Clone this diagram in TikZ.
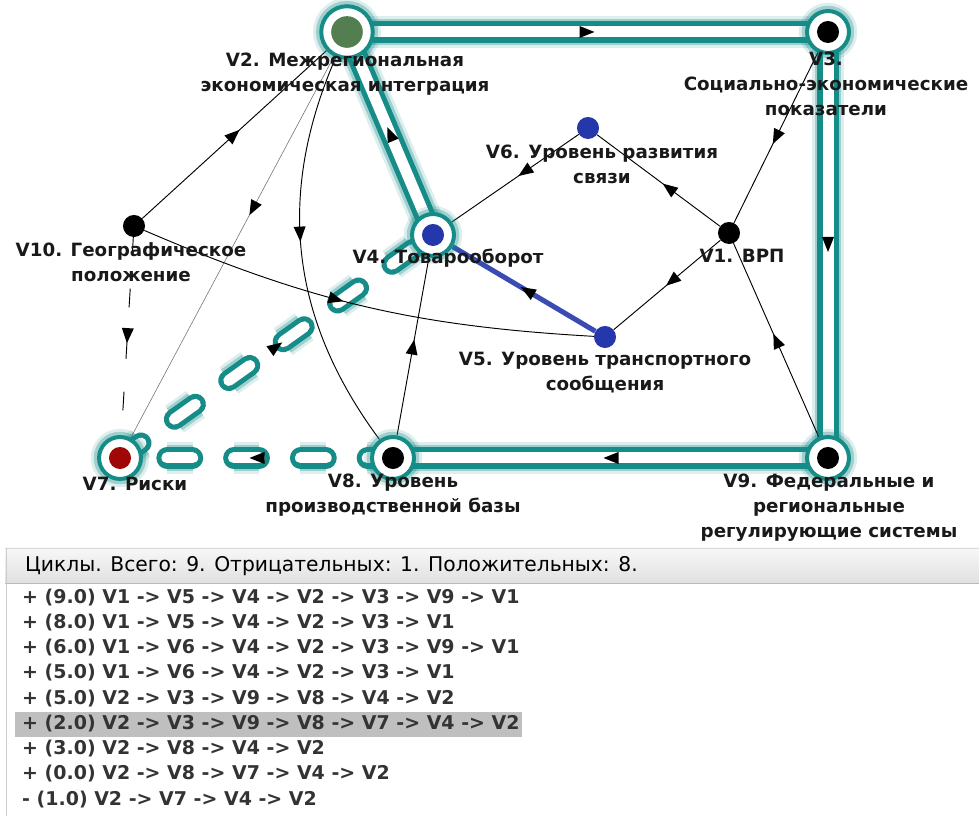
\documentclass[tikz,border=0pt]{standalone}
\usepackage{fontspec}
\setmainfont{DejaVu Sans}
\usepackage{tikz}
\usetikzlibrary{arrows.meta,backgrounds,decorations.markings}

\definecolor{hl}{RGB}{22,140,136}
\definecolor{nodegreen}{RGB}{82,126,80}
\definecolor{nodeblue}{RGB}{36,56,172}
\definecolor{nodered}{RGB}{160,8,8}

\begin{document}
\begin{tikzpicture}[x=0.03cm,y=0.03cm,
	dot/.style={circle,fill=#1,minimum size=18.8pt,inner sep=0pt},
	ring/.style={circle,draw=hl,line width=3.4pt,fill=white,minimum size=35.8pt,inner sep=0pt,
		preaction={draw=hl,opacity=.15,line width=14pt},
		preaction={draw=hl,opacity=.3,line width=9pt},
		path picture={\fill[#1] (path picture bounding box.center) circle (9.4pt);}},
	bigring/.style={ring=#1,minimum size=44pt,
		path picture={\fill[#1] (path picture bounding box.center) circle (13.5pt);}},
	tube/.style={draw=hl,line width=18pt,line cap=round,#1,
		preaction={draw=hl,opacity=.15,line width=28pt,#1},
		preaction={draw=hl,opacity=.3,line width=23pt,#1},
		postaction={draw=white,line width=9.4pt,#1}},
	tube/.default=solid,
	edge/.style={draw=black,line width=0.8pt},
	thinedge/.style={draw=black!55,line width=0.5pt},
	blueedge/.style={draw=nodeblue!90,line width=4.3pt},
	midarrow/.style={postaction={decorate},decoration={markings,
		mark=at position #1 with {\fill[black] (7,0) -- (-8,6) -- (-8,-6) -- cycle;}}},
	midarrow/.default=0.5,
	lbl/.style={font=\bfseries\fontsize{15.6}{21.3}\selectfont,align=center,inner sep=0pt,text=black!90},
	row/.style={anchor=west,font=\bfseries\fontsize{16.2}{18}\selectfont,inner sep=0pt,text=black!80}]
	
	\useasboundingbox (0,0) rectangle (979,816);
	
	% Vertices
	\node[bigring=nodegreen] (v2) at (347,784) {};
	\node[ring=black] (v3) at (828,784) {};
	\node[dot=nodeblue] (v6) at (588,688) {};
	\node[dot=black] (v1) at (729,583) {};
	\node[ring=nodeblue] (v4) at (433,581) {};
	\node[dot=black] (v10) at (134,590) {};
	\node[dot=nodeblue] (v5) at (605,479) {};
	\node[ring=nodered] (v7) at (120,358) {};
	\node[ring=black] (v8) at (393,358) {};
	\node[ring=black] (v9) at (828,358) {};
	
	\begin{scope}[on background layer]
		% Selected cycle
		\draw[tube,midarrow] (v2.center) -- (v3.center);
		\draw[tube,midarrow] (v3.center) -- (v9.center);
		\draw[tube,midarrow] (v9.center) -- (v8.center);
		\draw[tube={dash pattern=on 22pt off 35pt},midarrow] (v8.center) -- (v7.center);
		\draw[tube={dash pattern=on 22pt off 35pt},midarrow] (v7.center) -- (v4.center);
		\draw[tube,midarrow] (v4.center) -- (v2.center);
		
		% Other arcs
		\draw[edge,midarrow] (v10) -- (v2);
		\draw[thinedge,midarrow=.4] (v2) -- (v7);
		\draw[edge,midarrow=.45] (v2) to[bend right=30] (v8);
		\draw[edge,midarrow] (v8) -- (v4);
		\draw[edge,midarrow=.44] (v10) to[bend right=10] (v5);
		\draw[edge,dash pattern=on 16pt off 28pt,midarrow] (v10) -- (v7);
		\draw[edge,midarrow=.43] (v6) -- (v4);
		\draw[edge,midarrow=.42] (v1) -- (v6);
		\draw[edge,midarrow] (v3) -- (v1);
		\draw[edge,midarrow=.46] (v1) -- (v5);
		\draw[edge,midarrow] (v9) -- (v1);
		\draw[blueedge,midarrow=.48] (v5) -- (v4);
	\end{scope}
	
	% Labels
	\node[lbl] (l2) at (345,742) {V2. Межрегиональная\\экономическая интеграция};
	\node[lbl] (l3) at (826,732) {V3.\\Социально-экономические\\показатели};
	\node[lbl] (l6) at (602,652) {V6. Уровень развития\\связи};
	\node[lbl] (l1) at (742,560) {V1. ВРП};
	\node[lbl] (l4) at (448,558) {V4. Товарооборот};
	\node[lbl] (l10) at (131,554) {V10. Географическое\\положение};
	\node[lbl] (l5) at (605,443) {V5. Уровень транспортного\\сообщения};
	\node[lbl] (l7) at (135,332) {V7. Риски};
	\node[lbl] (l8) at (393,321) {V8. Уровень\\производственной базы};
	\node[lbl] (l9) at (829,308) {V9. Федеральные и\\региональные\\регулирующие системы};
	
	% Cycle list
	\shade[top color=gray!6,bottom color=gray!24] (5,268) rectangle (979,233);
	\draw[gray!55] (5,233) -- (979,233);
	\draw[gray!30] (5,268) -- (979,268);
	\draw[gray!40] (6,268) -- (6,0);
	\fill[black!25] (15,104) rectangle (522,79);
	
	\node[anchor=west,inner sep=0pt,font=\fontsize{17.3}{18}\selectfont] (hd) at (25,250) {Циклы. Всего: 9. Отрицательных: 1. Положительных: 8.};
	\node[row] (r1) at (22,218) {+ (9.0) V1 -> V5 -> V4 -> V2 -> V3 -> V9 -> V1};
	\node[row] (r2) at (22,193) {+ (8.0) V1 -> V5 -> V4 -> V2 -> V3 -> V1};
	\node[row] (r3) at (22,168) {+ (6.0) V1 -> V6 -> V4 -> V2 -> V3 -> V9 -> V1};
	\node[row] (r4) at (22,143) {+ (5.0) V1 -> V6 -> V4 -> V2 -> V3 -> V1};
	\node[row] (r5) at (22,117) {+ (5.0) V2 -> V3 -> V9 -> V8 -> V4 -> V2};
	\node[row] (r6) at (22,92) {+ (2.0) V2 -> V3 -> V9 -> V8 -> V7 -> V4 -> V2};
	\node[row] (r7) at (22,67) {+ (3.0) V2 -> V8 -> V4 -> V2};
	\node[row] (r8) at (22,42) {+ (0.0) V2 -> V8 -> V7 -> V4 -> V2};
	\node[row] (r9) at (22,16) {- (1.0) V2 -> V7 -> V4 -> V2};
	
\end{tikzpicture}
\end{document}
